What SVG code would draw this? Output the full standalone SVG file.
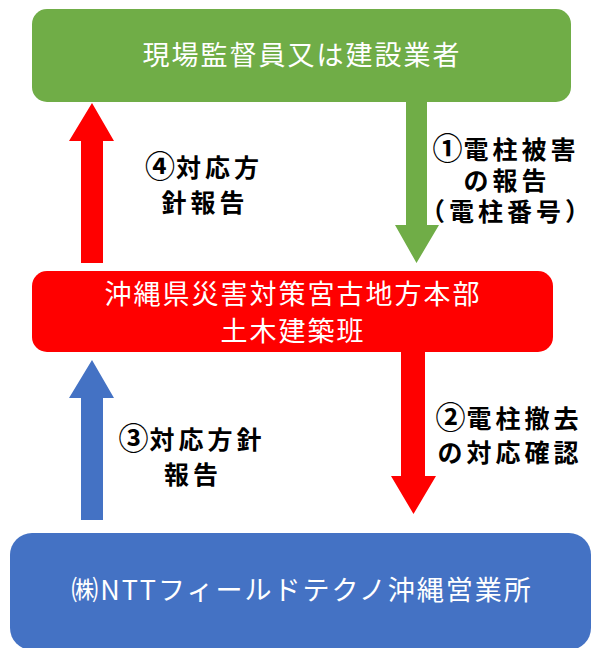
<svg xmlns="http://www.w3.org/2000/svg" width="593" height="648" viewBox="0 0 593 648">
<style>
.box{font-family:"Noto Sans CJK JP","Noto Sans",sans-serif;font-size:27px;fill:#fff;text-anchor:middle;letter-spacing:2px}
.lbl{font-family:"Noto Sans CJK JP","Noto Sans",sans-serif;font-size:25px;font-weight:bold;fill:#000;text-anchor:middle;letter-spacing:4px}
.num{font-size:30px;letter-spacing:1px}
</style>
<rect width="593" height="648" fill="#fff"/>
<g id="connectors">
<polygon points="92,103 114,141 103,141 103,263 81,263 81,141 69,141" fill="#FF0000"/>
<polygon points="406,100 427,100 427,225 439,225 416.5,263 395,225 406,225" fill="#70AD47"/>
<polygon points="92,360 114,398 103,398 103,520 81,520 81,398 69,398" fill="#4472C4"/>
<polygon points="401,352 425,352 425,476 436,476 413.5,514 391,476 401,476" fill="#FF0000"/>
<text class="lbl" x="204" y="177"><tspan class="num">④</tspan>対応方</text>
<text class="lbl" x="205" y="212">針報告</text>
<text class="lbl" x="506" y="159"><tspan class="num">①</tspan>電柱被害</text>
<text class="lbl" x="507" y="190">の報告</text>
<text class="lbl" x="507" y="221">（電柱番号）</text>
<text class="lbl" x="192" y="449"><tspan class="num">③</tspan>対応方針</text>
<text class="lbl" x="193" y="484">報告</text>
<text class="lbl" x="509" y="428"><tspan class="num">②</tspan>電柱撤去</text>
<text class="lbl" x="510" y="462">の対応確認</text>
</g>
<g id="node-green">
<rect x="32" y="9" width="539" height="93" rx="15" fill="#70AD47"/>
<text class="box" x="302" y="65">現場監督員又は建設業者</text>
</g>
<g id="node-red">
<rect x="32" y="271" width="521" height="81" rx="15" fill="#FF0000"/>
<text class="box" x="293" y="304">沖縄県災害対策宮古地方本部</text>
<text class="box" x="293" y="341">土木建築班</text>
</g>
<g id="node-blue">
<rect x="10" y="533" width="581" height="117" rx="22" fill="#4472C4"/>
<text class="box" x="302" y="600">㈱NTTフィールドテクノ沖縄営業所</text>
</g>
</svg>
